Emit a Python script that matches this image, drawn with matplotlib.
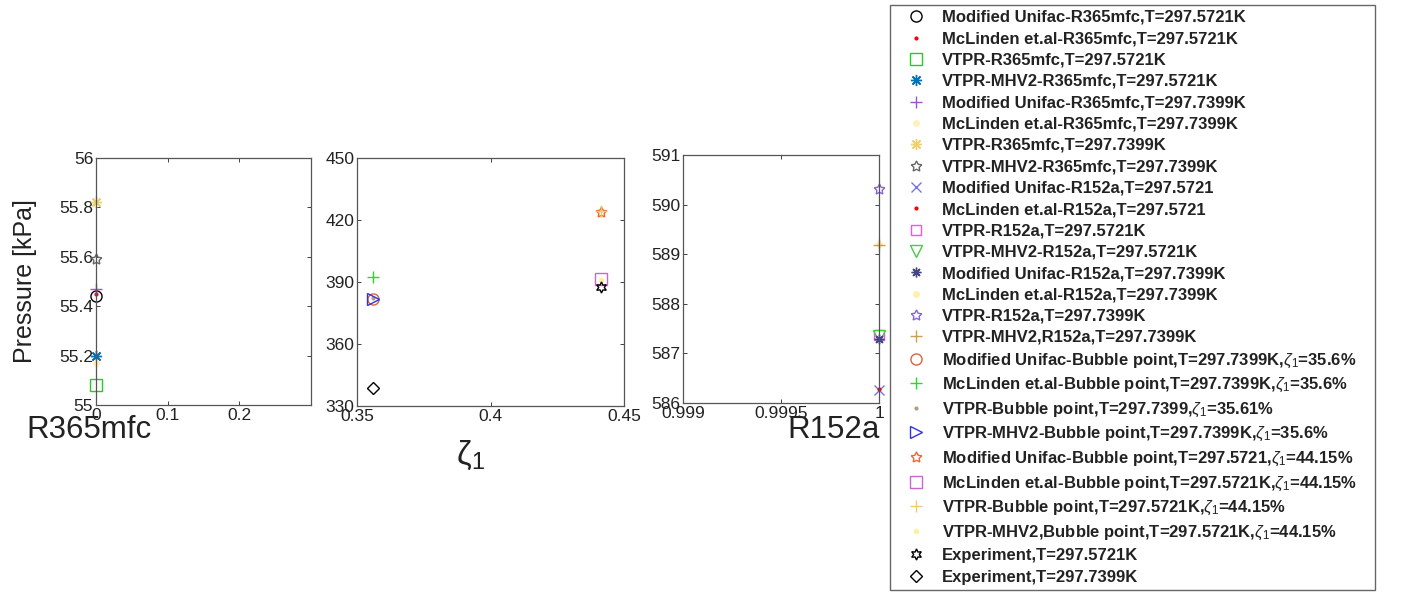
import matplotlib
matplotlib.use('Agg')
import matplotlib.pyplot as plt

plt.rcParams['font.family'] = ['Liberation Sans', 'DejaVu Sans']
plt.rcParams['mathtext.fontset'] = 'custom'
plt.rcParams['mathtext.rm'] = 'Liberation Sans'
plt.rcParams['mathtext.it'] = 'Liberation Sans:italic'
plt.rcParams['mathtext.bf'] = 'Liberation Sans:bold'

Z = r'$\zeta_1$'

# pure R365mfc vapour pressure (x = 0)
r365_labels = ['Modified Unifac-R365mfc,T=297.5721K', 'McLinden et.al-R365mfc,T=297.5721K',
               'VTPR-R365mfc,T=297.5721K', 'VTPR-MHV2-R365mfc,T=297.5721K',
               'Modified Unifac-R365mfc,T=297.7399K', 'McLinden et.al-R365mfc,T=297.7399K',
               'VTPR-R365mfc,T=297.7399K', 'VTPR-MHV2-R365mfc,T=297.7399K']
r365_x = [0, 0, 0, 0, 0, 0, 0, 0]
r365_p = [55.44, 55.45, 55.08, 55.20, 55.47, 55.17, 55.82, 55.59]

# pure R152a vapour pressure (x = 1)
r152_labels = ['Modified Unifac-R152a,T=297.5721', 'McLinden et.al-R152a,T=297.5721',
               'VTPR-R152a,T=297.5721K', 'VTPR-MHV2-R152a,T=297.5721K',
               'Modified Unifac-R152a,T=297.7399K', 'McLinden et.al-R152a,T=297.7399K',
               'VTPR-R152a,T=297.7399K', 'VTPR-MHV2,R152a,T=297.7399K']
r152_x = [1, 1, 1, 1, 1, 1, 1, 1]
r152_p = [586.26, 586.28, 587.38, 587.36, 587.30, 589.20, 590.31, 589.19]

# bubble points of the mixture
bub_labels = ['Modified Unifac-Bubble point,T=297.7399K,' + Z + '=35.6%',
              'McLinden et.al-Bubble point,T=297.7399K,' + Z + '=35.6%',
              'VTPR-Bubble point,T=297.7399,' + Z + '=35.61%',
              'VTPR-MHV2-Bubble point,T=297.7399K,' + Z + '=35.6%',
              'Modified Unifac-Bubble point,T=297.5721,' + Z + '=44.15%',
              'McLinden et.al-Bubble point,T=297.5721K,' + Z + '=44.15%',
              'VTPR-Bubble point,T=297.5721K,' + Z + '=44.15%',
              'VTPR-MHV2,Bubble point,T=297.5721K,' + Z + '=44.15%',
              'Experiment,T=297.5721K', 'Experiment,T=297.7399K']
bub_z = [0.356, 0.356, 0.356, 0.356, 0.4415, 0.4415, 0.4415, 0.4415, 0.4415, 0.356]
bub_p = [382.0, 392.5, 382.5, 381.8, 424.0, 391.5, 424.5, 391.0, 387.6, 338.6]

# (marker, colour, size, filled)
r365_style = [('o', 'black', 8, False), ('.', 'red', 4, True), ('s', '#22cc22', 8, False),
              ((8, 2, 0), '#0072bd', 8, False), ('+', '#9955cc', 8, False),
              ('.', '#fff0c0', 8, True), ((8, 2, 0), '#f0d070', 8, False),
              ((5, 1, 0), '#666666', 8, False)]
r152_style = [('x', '#7777dd', 7, False), ('.', 'red', 4, True), ('s', '#ee55ee', 7, False),
              ('v', '#44cc44', 8, False), ((8, 2, 0), '#444488', 7, False),
              ('.', '#fff0b0', 8, True), ((5, 1, 0), '#8866cc', 8, False),
              ('+', '#c8a050', 8, False)]
bub_style = [('o', '#e06040', 8, False), ('+', '#22dd22', 9, False), ('.', '#b0a080', 4, True),
             ('>', '#3333dd', 8, False), ((5, 1, 0), '#ee6633', 8, False),
             ('s', '#cc66cc', 8, False), ('+', '#eecc66', 8, False), ('.', '#fff0a0', 6, True),
             ((6, 1, 0), 'black', 8, False), ('D', 'black', 6, False)]

fig = plt.figure(figsize=(14.04, 5.94), dpi=100)
ax1 = fig.add_axes([0.0684, 0.318, 0.1531, 0.416])
ax2 = fig.add_axes([0.2543, 0.3165, 0.1902, 0.4175])
ax3 = fig.add_axes([0.4865, 0.3215, 0.1396, 0.4175])

handles = []


def draw(ax, xs, ps, labels, styles):
    for x, p, lab, (m, c, ms, filled) in zip(xs, ps, labels, styles):
        h, = ax.plot([x], [p], linestyle='none', marker=m, markersize=ms,
                     markeredgecolor=c, markerfacecolor=c if filled else 'none',
                     markeredgewidth=1.0, label=lab, clip_on=False)
        handles.append(h)


draw(ax1, r365_x, r365_p, r365_labels, r365_style)
draw(ax3, r152_x, r152_p, r152_labels, r152_style)
draw(ax2, bub_z, bub_p, bub_labels, bub_style)

ax1.set_xlim(0, 0.3)
ax1.set_ylim(55, 56)
ax1.set_xticks([0, 0.1, 0.2])
ax1.set_xticklabels(['0', '0.1', '0.2'])
ax1.set_yticks([55, 55.2, 55.4, 55.6, 55.8, 56])
ax1.set_yticklabels(['55', '55.2', '55.4', '55.6', '55.8', '56'])

ax2.set_xlim(0.35, 0.45)
ax2.set_ylim(330, 450)
ax2.set_xticks([0.35, 0.4, 0.45])
ax2.set_xticklabels(['0.35', '0.4', '0.45'])
ax2.set_yticks([330, 360, 390, 420, 450])

ax3.set_xlim(0.999, 1)
ax3.set_ylim(586, 591)
ax3.set_xticks([0.999, 0.9995, 1])
ax3.set_xticklabels(['0.999', '0.9995', '1'])
ax3.set_yticks([586, 587, 588, 589, 590, 591])

for ax in (ax1, ax2, ax3):
    ax.tick_params(direction='in', top=True, right=True, length=3, width=0.6,
                   labelsize=12.5, colors='#222222', pad=2)
    for s in ax.spines.values():
        s.set_color('#555555')
        s.set_linewidth(0.9)

fig.text(0.019, 0.276, 'R365mfc', fontsize=22.5, color='#222222', va='center', ha='left')
fig.text(0.018, 0.527, 'Pressure [kPa]', fontsize=18, color='#222222', rotation=90,
         va='center', ha='center')
fig.text(0.335, 0.234, r'$\mathrm{\zeta}_1$', fontsize=24, color='#222222',
         va='center', ha='center')
fig.text(0.6265, 0.276, 'R152a', fontsize=22.5, color='#222222', va='center', ha='right')

leg = fig.legend(handles=handles, loc='upper left',
                 bbox_to_anchor=(890 / 1404, 1 - 5 / 594, 485 / 1404, 0), mode='expand',
                 frameon=True, fancybox=False, edgecolor='#666666', framealpha=1,
                 prop={'size': 12, 'weight': 'bold'}, labelspacing=0.38, handlelength=2.5,
                 handletextpad=0.3, borderpad=0.3, borderaxespad=0)
leg.get_frame().set_linewidth(1.0)
for t in leg.get_texts():
    t.set_color('#222222')

fig.savefig('out.png', dpi=100)
